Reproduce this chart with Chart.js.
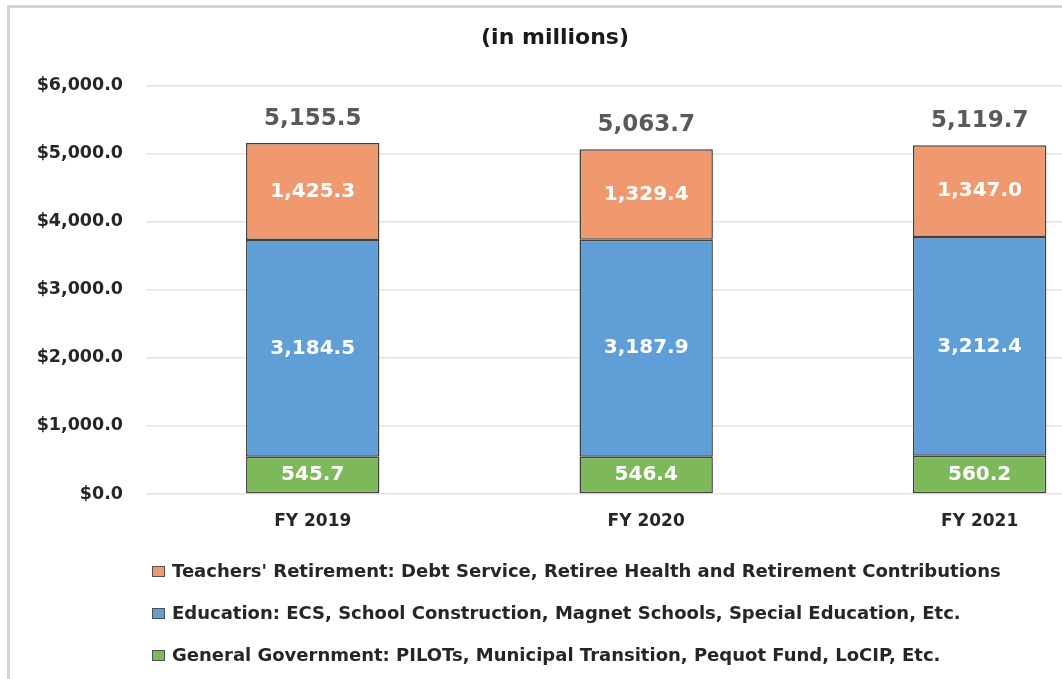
<!DOCTYPE html>
<html>
<head>
<meta charset="utf-8">
<script src="https://cdn.jsdelivr.net/npm/chart.js@4/dist/chart.umd.min.js"></script>
<style>
  html, body { margin: 0; padding: 0; background: #fff; overflow: hidden; }
  canvas { display: block; }
</style>
</head>
<body>
<canvas id="chart" width="1062" height="679"></canvas>
<script>
// Fiscal years shown along the x axis
const categories = ['FY 2019', 'FY 2020', 'FY 2021'];

// Aid by program area, $ millions (stacked bottom to top)
const generalGovernment = [545.7, 546.4, 560.2];
const education = [3184.5, 3187.9, 3212.4];
const teachersRetirement = [1425.3, 1329.4, 1347.0];

// Reported totals printed above each column
const totals = [5155.5, 5063.7, 5119.7];

// Series names
const seriesNames = [
  'General Government: PILOTs, Municipal Transition, Pequot Fund, LoCIP, Etc.',
  'Education: ECS, School Construction, Magnet Schools, Special Education, Etc.',
  "Teachers' Retirement: Debt Service, Retiree Health and Retirement Contributions"
];

// Value axis ticks
const yTickValues = [0, 1000, 2000, 3000, 4000, 5000, 6000];

const FONT = 'DejaVu Sans';
const colors = ['#7DB95B', '#5F9ED7', '#F0996E'];

const fmt = v => v.toLocaleString('en-US', { minimumFractionDigits: 1, maximumFractionDigits: 1 });
const toPoints = arr => arr.map((v, i) => ({ x: i, y: v }));

const seriesValues = [generalGovernment, education, teachersRetirement];

// Frame lines along the top and left edges
const framePlugin = {
  id: 'frame',
  beforeDraw(chart) {
    const ctx = chart.ctx;
    ctx.save();
    ctx.fillStyle = '#ffffff';
    ctx.fillRect(0, 0, chart.width, chart.height);
    ctx.fillStyle = '#d4d4d4';
    ctx.fillRect(7, 5, chart.width - 7, 3);
    ctx.fillRect(7, 5, 3, chart.height - 5);
    ctx.restore();
  }
};

// Values inside each segment and totals above each column
const labelPlugin = {
  id: 'segmentLabels',
  afterDatasetsDraw(chart) {
    const ctx = chart.ctx;
    ctx.save();
    ctx.textAlign = 'center';
    ctx.textBaseline = 'middle';
    chart.data.datasets.forEach((ds, di) => {
      const meta = chart.getDatasetMeta(di);
      meta.data.forEach((bar, i) => {
        const p = bar.getProps(['x', 'y', 'base'], true);
        ctx.fillStyle = '#ffffff';
        ctx.font = `bold 20px "${FONT}"`;
        ctx.fillText(fmt(ds.data[i].y), p.x, (p.y + p.base) / 2);
      });
    });
    const topMeta = chart.getDatasetMeta(chart.data.datasets.length - 1);
    topMeta.data.forEach((bar, i) => {
      const p = bar.getProps(['x', 'y'], true);
      ctx.fillStyle = '#595959';
      ctx.font = `bold 23px "${FONT}"`;
      ctx.fillText(fmt(totals[i]), p.x, p.y - 24);
    });
    ctx.restore();
  }
};

// Left-aligned stacked legend below the axis
const legendPlugin = {
  id: 'stackedLegend',
  afterDraw(chart) {
    const ctx = chart.ctx;
    const order = [2, 1, 0];
    const rowY = [572, 614, 656];
    ctx.save();
    ctx.textAlign = 'left';
    ctx.textBaseline = 'middle';
    ctx.font = `bold 18px "${FONT}"`;
    order.forEach((di, r) => {
      const ds = chart.data.datasets[di];
      const y = rowY[r];
      ctx.fillStyle = ds.backgroundColor;
      ctx.fillRect(152, y - 6, 13, 11);
      ctx.strokeStyle = '#505050';
      ctx.lineWidth = 1;
      ctx.strokeRect(152.5, y - 5.5, 12, 10);
      ctx.fillStyle = '#262626';
      ctx.fillText(ds.label, 172, y);
    });
    ctx.restore();
  }
};

new Chart(document.getElementById('chart'), {
  type: 'bar',
  data: {
    datasets: seriesValues.map((vals, i) => ({
      label: seriesNames[i],
      data: toPoints(vals),
      backgroundColor: colors[i],
      borderColor: '#3f3f3f',
      borderWidth: 1.5,
      borderSkipped: false,
      barPercentage: 0.4,
      categoryPercentage: 1.0
    }))
  },
  options: {
    responsive: false,
    animation: false,
    // the title is centred a little right of the canvas middle
    layout: { padding: { left: 0, right: -48, top: 0, bottom: 0 } },
    plugins: {
      legend: { display: false },
      tooltip: { enabled: false },
      title: {
        display: true,
        text: '(in millions)',
        color: '#1a1a1a',
        font: { family: FONT, size: 22, weight: 'bold' },
        padding: { top: 25, bottom: 34 }
      }
    },
    scales: {
      x: {
        type: 'linear',
        stacked: true,
        offset: false,
        // the last column's slot runs on past the right edge
        min: -0.5,
        max: 2.247,
        grid: { display: false, drawTicks: false, offset: false },
        border: { display: false },
        afterBuildTicks(scale) {
          scale.ticks = categories.map((c, i) => ({ value: i }));
        },
        ticks: {
          autoSkip: false,
          maxRotation: 0,
          padding: 17,
          color: '#262626',
          font: { family: FONT, size: 17, weight: 'bold' },
          callback: v => categories[v] ?? ''
        },
        afterFit(scale) { scale.height = 185; }
      },
      y: {
        stacked: true,
        min: 0,
        max: 6000,
        afterBuildTicks(scale) {
          scale.ticks = yTickValues.map(v => ({ value: v }));
        },
        grid: { color: '#e4e4e4', lineWidth: 1.5, drawTicks: false },
        border: { display: false },
        ticks: {
          padding: 23,
          color: '#262626',
          font: { family: FONT, size: 17.5, weight: 'bold' },
          callback: v => '$' + fmt(v)
        },
        afterFit(scale) { scale.width = 146; }
      }
    }
  },
  plugins: [framePlugin, labelPlugin, legendPlugin]
});
</script>
</body>
</html>
